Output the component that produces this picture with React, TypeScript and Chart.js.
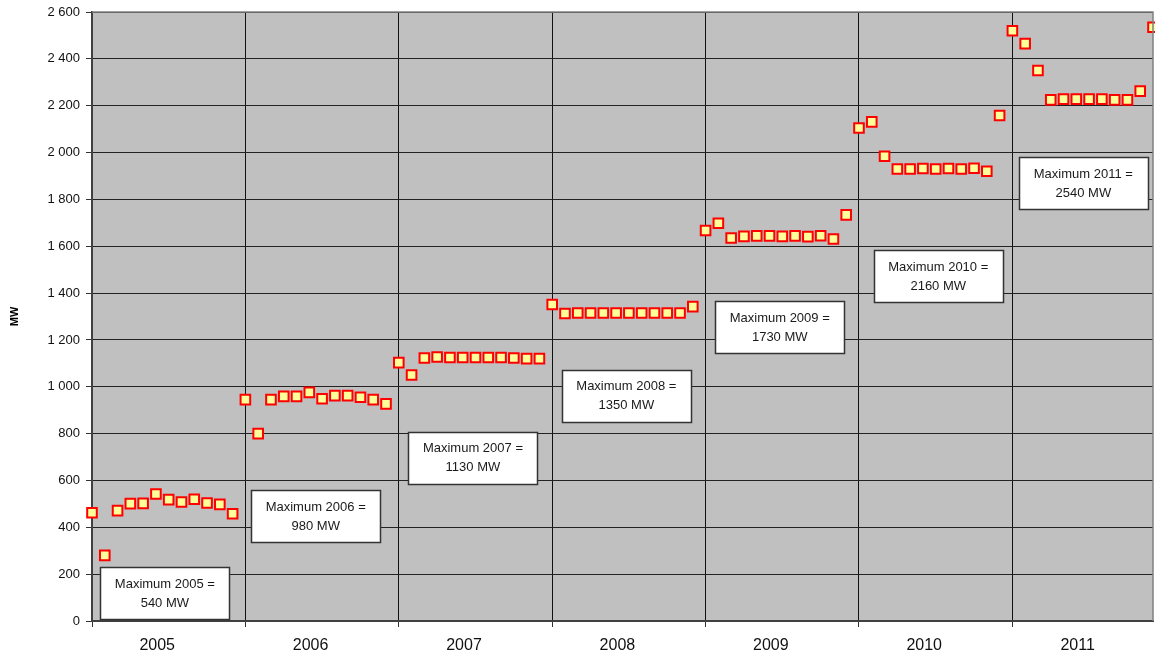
import React, { useEffect, useRef } from "react";
import { Chart, registerables } from "chart.js";

Chart.register(...registerables);

const YEARS = ["2005", "2006", "2007", "2008", "2009", "2010", "2011"];

const MW_2005 = [462, 280, 471, 501, 502, 542, 518, 508, 520, 504, 498, 458];
const MW_2006 = [945, 800, 945, 959, 959, 976, 949, 962, 962, 955, 945, 927];
const MW_2007 = [1103, 1050, 1123, 1127, 1125, 1125, 1125, 1125, 1125, 1123, 1120, 1120];
const MW_2008 = [1351, 1313, 1315, 1315, 1315, 1315, 1315, 1315, 1315, 1315, 1315, 1342];
const MW_2009 = [1667, 1698, 1635, 1642, 1644, 1644, 1642, 1644, 1641, 1645, 1631, 1734];
const MW_2010 = [2105, 2131, 1984, 1930, 1930, 1932, 1930, 1932, 1930, 1933, 1920, 2158];
const MW_2011 = [2520, 2465, 2350, 2225, 2228, 2228, 2228, 2228, 2225, 2225, 2262, 2535];

const YEAR_MAXIMA = [540, 980, 1130, 1350, 1730, 2160, 2540];

// annotation anchor (box centre) in data units: month index, MW
const NOTE_X = [5.7, 17.5, 29.8, 41.8, 53.8, 66.2, 77.55];
const NOTE_Y = [118, 447, 698, 961, 1254, 1472, 1868];

const Y_MIN = 0;
const Y_MAX = 2600;
const Y_STEP = 200;
const LABEL_OFFSET = 5.1; // year label position within each 12-month block

const FONT = "'Liberation Sans', Arial, sans-serif";

const fmt = (v: number) => String(v).replace(/\B(?=(\d{3})+(?!\d))/g, " ");

export default function App() {
  const ref = useRef<HTMLCanvasElement | null>(null);

  useEffect(() => {
    if (!ref.current) return;
    const all = [MW_2005, MW_2006, MW_2007, MW_2008, MW_2009, MW_2010, MW_2011].flat();
    const points = all.map((v, i) => ({ x: i, y: v }));
    const lastIndex = all.length - 1;

    const bgPlugin = {
      id: "plotBg",
      beforeDraw(chart: any) {
        const { ctx, chartArea } = chart;
        const { left, top, width, height } = chartArea;
        ctx.save();
        ctx.fillStyle = "#C0C0C0";
        ctx.fillRect(left, top, width, height);
        ctx.restore();
      },
      afterDraw(chart: any) {
        const { ctx, chartArea } = chart;
        ctx.save();
        ctx.strokeStyle = "#808080";
        ctx.lineWidth = 1.5;
        ctx.beginPath();
        ctx.moveTo(chartArea.left, chartArea.top);
        ctx.lineTo(chartArea.right, chartArea.top);
        ctx.lineTo(chartArea.right, chartArea.bottom);
        ctx.stroke();
        ctx.restore();
      },
    };

    const notePlugin = {
      id: "notes",
      afterDatasetsDraw(chart: any) {
        const { ctx, scales } = chart;
        const w = 129;
        const h = 52;
        ctx.save();
        YEARS.forEach((yr, i) => {
          const cx = scales.x.getPixelForValue(NOTE_X[i]);
          const cy = scales.y.getPixelForValue(NOTE_Y[i]);
          const x0 = Math.round(cx - w / 2) + 0.5;
          const y0 = Math.round(cy - h / 2) + 0.5;
          ctx.fillStyle = "#FFFFFF";
          ctx.fillRect(x0, y0, w, h);
          ctx.strokeStyle = "#333333";
          ctx.lineWidth = 1.5;
          ctx.strokeRect(x0, y0, w, h);
          ctx.fillStyle = "#1a1a1a";
          ctx.font = `13px ${FONT}`;
          ctx.textAlign = "center";
          ctx.textBaseline = "middle";
          ctx.fillText(`Maximum ${yr} =`, cx, cy - 9);
          ctx.fillText(`${YEAR_MAXIMA[i]} MW`, cx, cy + 10);
        });
        ctx.restore();
      },
    };

    const chart = new Chart(ref.current, {
      type: "scatter",
      data: {
        datasets: [
          {
            label: "MW",
            data: points,
            pointStyle: "rect",
            pointRadius: 6.8,
            pointHoverRadius: 6.8,
            pointBackgroundColor: "#FFFF99",
            pointBorderColor: "#FF0000",
            pointBorderWidth: 2,
            showLine: false,
            clip: false as any,
          },
        ],
      },
      options: {
        animation: false,
        responsive: true,
        maintainAspectRatio: false,
        layout: { autoPadding: false, padding: { top: 12, right: 2, left: 0, bottom: 0 } },
        plugins: {
          legend: { display: false },
          tooltip: { enabled: false },
          title: { display: false },
        },
        scales: {
          x: {
            type: "linear",
            min: 0,
            max: lastIndex,
            afterBuildTicks(scale: any) {
              const t: any[] = [];
              YEARS.forEach((_, i) => {
                t.push({ value: i * 12 });
                t.push({ value: i * 12 + LABEL_OFFSET });
              });
              scale.ticks = t;
            },
            afterFit(scale: any) {
              scale.height = 37;
              scale.paddingLeft = 0;
              scale.paddingRight = 0;
            },
            grid: {
              color: (c: any) => (c.tick && c.tick.value % 12 === 0 ? "#111111" : "rgba(0,0,0,0)"),
              tickColor: (c: any) => (c.tick && c.tick.value % 12 === 0 ? "#333333" : "rgba(0,0,0,0)"),
              lineWidth: 1,
              tickLength: 6,
            },
            border: { color: "#404040", width: 2 },
            ticks: {
              autoSkip: false,
              maxRotation: 0,
              minRotation: 0,
              padding: 9,
              color: "#111111",
              font: { family: FONT, size: 16 },
              callback: (v: any) => {
                const n = Number(v);
                if (n % 12 === 0) return "";
                return YEARS[Math.floor(n / 12)];
              },
            },
          },
          y: {
            min: Y_MIN,
            max: Y_MAX,
            afterFit(scale: any) {
              scale.width = 92;
              scale.paddingTop = 0;
              scale.paddingBottom = 0;
            },
            grid: {
              color: "#222222",
              tickColor: "#333333",
              lineWidth: 1,
              tickLength: 6,
            },
            border: { color: "#404040", width: 2 },
            ticks: {
              stepSize: Y_STEP,
              padding: 6,
              color: "#111111",
              font: { family: FONT, size: 13 },
              callback: (v: any) => fmt(Number(v)),
            },
            title: {
              display: true,
              text: "MW",
              color: "#000000",
              font: { family: FONT, size: 11, weight: "bold" },
              padding: { top: 8, bottom: 0 },
            },
          },
        },
      },
      plugins: [bgPlugin, notePlugin],
    });

    return () => chart.destroy();
  }, []);

  return (
    <div style={{ position: "fixed", left: 0, top: 0, width: 1155, height: 658, background: "#FFFFFF" }}>
      <canvas ref={ref} />
    </div>
  );
}
